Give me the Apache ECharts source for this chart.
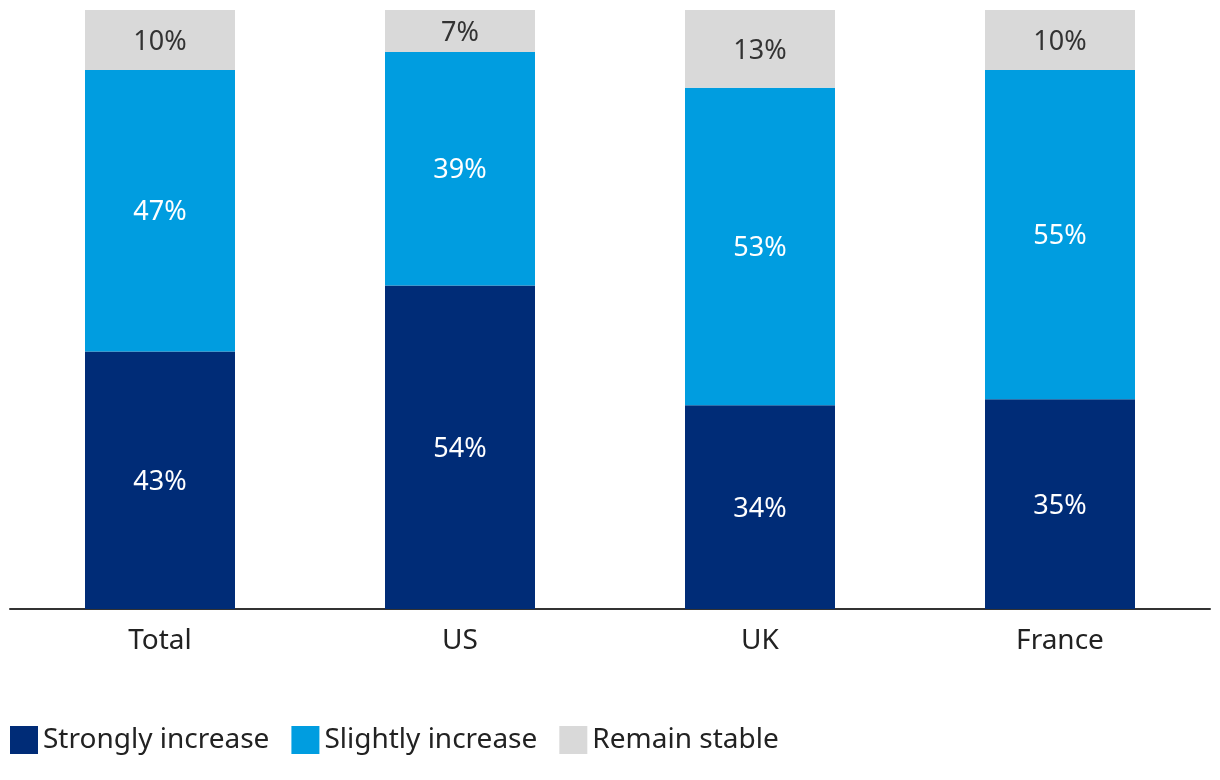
<!DOCTYPE html>
<html>
<head>
<meta charset="utf-8">
<script src="https://cdn.jsdelivr.net/npm/echarts@6/dist/echarts.min.js"></script>
<style>html,body{margin:0;padding:0;background:#fff}#c{width:1220px;height:780px}</style>
</head>
<body>
<div id="c"></div>
<script>
var categories = ['Total', 'US', 'UK', 'France'];
var strongly = [43, 54, 34, 35];
var slightly = [47, 39, 53, 55];
var stable = [10, 7, 13, 10];
var seriesNames = ['Strongly increase', 'Slightly increase', 'Remain stable'];

var FONT = '"Noto Sans", "Open Sans", sans-serif';
var chart = echarts.init(document.getElementById('c'));
function mk(name, data, color, labelColor) {
  return {
    name: name, type: 'bar', stack: 'a', data: data, barWidth: 150,
    itemStyle: { color: color },
    label: { show: true, position: 'inside', offset: [0, 2], formatter: '{c}%', color: labelColor, fontSize: 27, fontFamily: FONT },
    emphasis: { disabled: true }
  };
}
chart.setOption({
  animation: false,
  textStyle: { fontFamily: FONT },
  grid: { left: 10, right: 10, top: 10, bottom: 171, containLabel: false },
  legend: {
    left: 10, top: 726, padding: 0, itemWidth: 28, itemHeight: 28, itemGap: 22,
    icon: 'rect',
    textStyle: { fontSize: 28, color: '#222', fontFamily: FONT },
    data: seriesNames
  },
  xAxis: {
    type: 'category', data: categories,
    axisLine: { lineStyle: { color: '#333', width: 2 } },
    axisTick: { show: false },
    axisLabel: { fontSize: 28, color: '#222', margin: 18, fontFamily: FONT }
  },
  yAxis: { type: 'value', min: 0, max: 100, show: false, splitLine: { show: false } },
  series: [
    mk(seriesNames[0], strongly, '#002C77', '#fff'),
    mk(seriesNames[1], slightly, '#009DE0', '#fff'),
    mk(seriesNames[2], stable, '#D9D9D9', '#333')
  ]
});
</script>
</body>
</html>
